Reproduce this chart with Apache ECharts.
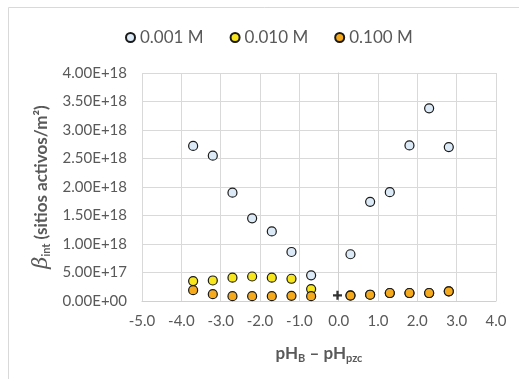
<!DOCTYPE html>
<html><head><meta charset="utf-8">
<script src="https://cdn.jsdelivr.net/npm/echarts@6/dist/echarts.min.js"></script>
<style>html,body{margin:0;padding:0;background:#fff}#c{width:519px;height:379px}</style>
</head><body><div id="c"></div>
<script>
const seriesNames = ['0.001 M', '0.010 M', '0.100 M'];
const x001 = [-3.7, -3.2, -2.7, -2.2, -1.7, -1.2, -0.7, 0.3, 0.8, 1.3, 1.8, 2.3, 2.8];
const y001 = [2.72e18, 2.55e18, 1.90e18, 1.45e18, 1.22e18, 0.86e18, 0.45e18, 0.82e18, 1.74e18, 1.91e18, 2.73e18, 3.38e18, 2.70e18];
const x010 = [-3.7, -3.2, -2.7, -2.2, -1.7, -1.2, -0.7, 0.3, 0.8, 1.3, 1.8, 2.3, 2.8];
const y010 = [0.35e18, 0.36e18, 0.41e18, 0.43e18, 0.41e18, 0.39e18, 0.21e18, 0.10e18, 0.11e18, 0.14e18, 0.14e18, 0.14e18, 0.17e18];
const x100 = [-3.7, -3.2, -2.7, -2.2, -1.7, -1.2, -0.7, 0.3, 0.8, 1.3, 1.8, 2.3, 2.8];
const y100 = [0.19e18, 0.12e18, 0.085e18, 0.085e18, 0.085e18, 0.09e18, 0.085e18, 0.095e18, 0.11e18, 0.14e18, 0.14e18, 0.14e18, 0.17e18];
const xPlus = [-0.03];
const yPlus = [0.10e18];
const colors = ['#DCE9F6', '#F7E51E', '#F4AA1C'];

const FONT = 'Lato';
function pair(xs, ys) { return xs.map((x, i) => [x, ys[i]]); }
function yFmt(v) {
  if (v === 0) return '0.00E+00';
  const e = Math.floor(Math.log10(Math.abs(v)) + 1e-9);
  const m = v / Math.pow(10, e);
  return m.toFixed(2) + 'E+' + String(e).padStart(2, '0');
}
const chart = echarts.init(document.getElementById('c'));
const scat = (name, data, color, z) => ({
  name, type: 'scatter', data, symbol: 'circle', symbolSize: 9, z,
  itemStyle: { color, borderColor: '#1a1a1a', borderWidth: 1.2, opacity: 1 }
});
chart.setOption({
  animation: false,
  textStyle: { fontFamily: FONT },
  graphic: [{ type: 'rect', shape: { x: 8.5, y: 7.5, width: 530, height: 400 }, style: { fill: 'none', stroke: '#d9d9d9', lineWidth: 1 }, silent: true }],
  legend: {
    data: seriesNames, top: 24, left: 120, itemGap: 26, itemWidth: 9, itemHeight: 9, icon: 'circle',
    textStyle: { fontSize: 17, color: '#595959', fontFamily: FONT }
  },
  grid: { left: 142, right: 23, top: 73, bottom: 78 },
  xAxis: {
    type: 'value', min: -5, max: 4, interval: 1,
    axisLine: { show: true, onZero: false, lineStyle: { color: '#d0d0d0' } },
    axisTick: { show: false },
    splitLine: { show: true, lineStyle: { color: '#d9d9d9' } },
    axisLabel: { formatter: v => v.toFixed(1), color: '#595959', fontSize: 15, margin: 13, fontFamily: FONT },
    name: '{b|pH}{s|B}{b| – pH}{s|pzc}', nameLocation: 'middle', nameGap: 42,
    nameTextStyle: { rich: {
      b: { fontSize: 17, fontWeight: 'bold', color: '#595959', fontFamily: FONT },
      s: { fontSize: 11, fontWeight: 'bold', color: '#595959', fontFamily: FONT, padding: [10, 0, 0, 0] }
    } }
  },
  yAxis: {
    type: 'value', min: 0, max: 4e18, interval: 5e17,
    axisLine: { show: true, lineStyle: { color: '#d0d0d0' } },
    axisTick: { show: false },
    splitLine: { show: true, lineStyle: { color: '#d9d9d9' } },
    axisLabel: { formatter: yFmt, color: '#595959', fontSize: 15, margin: 15, fontFamily: FONT },
    name: '{g|β}{s|int}{b| (sitios activos/m²)}', nameLocation: 'middle', nameGap: 86, nameRotate: 90,
    nameTextStyle: { rich: {
      g: { fontSize: 21, fontStyle: 'italic', color: '#595959', fontFamily: 'DejaVu Serif' },
      b: { fontSize: 17, fontWeight: 'bold', color: '#595959', fontFamily: FONT },
      s: { fontSize: 11, fontWeight: 'bold', color: '#595959', fontFamily: FONT, padding: [10, 0, 0, 0] }
    } }
  },
  series: [
    scat(seriesNames[0], pair(x001, y001), colors[0], 3),
    scat(seriesNames[1], pair(x010, y010), colors[1], 4),
    scat(seriesNames[2], pair(x100, y100), colors[2], 5),
    { name: 'plus', type: 'scatter', data: pair(xPlus, yPlus), symbol: 'path://M3,0H5V3H8V5H5V8H3V5H0V3H3Z', symbolSize: 9, z: 6,
      itemStyle: { color: '#000' } }
  ]
});
</script></body></html>
